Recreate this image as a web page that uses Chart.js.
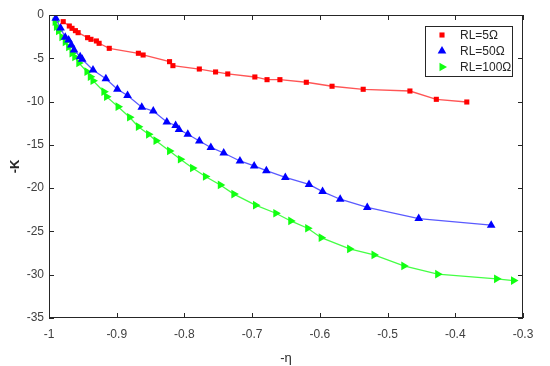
<!DOCTYPE html>
<html>
<head>
<meta charset="utf-8">
<script src="https://cdn.jsdelivr.net/npm/chart.js@4/dist/chart.umd.min.js"></script>
<style>
  html, body { margin: 0; padding: 0; background: #fff; }
  #wrap { width: 550px; height: 366px; }
</style>
</head>
<body>
<div id="wrap"><canvas id="grafico" width="550" height="366"></canvas></div>
<script>
// valores
const etaR5 = [-0.979, -0.970, -0.966, -0.961, -0.957, -0.943, -0.938, -0.930, -0.926, -0.911,
  -0.868, -0.861, -0.822, -0.817, -0.778, -0.754, -0.736, -0.696, -0.678, -0.659,
  -0.620, -0.582, -0.536, -0.467, -0.428, -0.383];
const kR5 = [-0.77, -1.27, -1.54, -1.81, -2.04, -2.62, -2.81, -3.0, -3.27, -3.85,
  -4.42, -4.62, -5.39, -5.85, -6.24, -6.58, -6.81, -7.16, -7.47, -7.47,
  -7.77, -8.23, -8.58, -8.78, -9.74, -10.05];

const etaR50 = [-0.990, -0.983, -0.976, -0.971, -0.967, -0.963, -0.954, -0.951, -0.935, -0.916,
  -0.899, -0.884, -0.863, -0.846, -0.826, -0.813, -0.808, -0.795, -0.778, -0.761,
  -0.742, -0.718, -0.697, -0.679, -0.651, -0.616, -0.596, -0.570, -0.530, -0.454, -0.347];
const kR50 = [-0.38, -1.5, -2.58, -2.89, -3.46, -4.04, -4.82, -5.12, -6.35, -7.36,
  -8.58, -9.3, -10.66, -11.09, -12.36, -12.76, -13.22, -13.78, -14.55, -15.3,
  -15.94, -16.86, -17.44, -17.98, -18.76, -19.57, -20.4, -21.28, -22.23, -23.52, -24.28];

const etaR100 = [-0.991, -0.989, -0.986, -0.981, -0.976, -0.971, -0.966, -0.962, -0.956, -0.944,
  -0.939, -0.935, -0.919, -0.915, -0.898, -0.881, -0.868, -0.853, -0.842, -0.822,
  -0.806, -0.788, -0.769, -0.747, -0.727, -0.695, -0.665, -0.643, -0.618, -0.598,
  -0.556, -0.520, -0.476, -0.426, -0.339, -0.314];
const kR100 = [-0.77, -1.35, -1.85, -2.54, -3.12, -3.70, -4.42, -4.85, -5.54, -6.55,
  -7.12, -7.59, -8.86, -9.43, -10.59, -11.81, -12.90, -13.78, -14.52, -15.70,
  -16.66, -17.67, -18.65, -19.63, -20.69, -21.97, -22.9, -23.79, -24.63, -25.72,
  -27.02, -27.71, -28.98, -29.94, -30.48, -30.68];

const etiquetas = ["RL=5\u03A9", "RL=50\u03A9", "RL=100\u03A9"];
const xTicks = [-1, -0.9, -0.8, -0.7, -0.6, -0.5, -0.4, -0.3];
const yTicks = [0, -5, -10, -15, -20, -25, -30, -35];

function puntos(xs, ys) {
  return xs.map((x, i) => ({ x: x, y: ys[i] }));
}

const fuente = "'Liberation Sans', Arial, sans-serif";

// caja tipo matlab con marcas hacia dentro + leyenda
const cajaPlugin = {
  id: "caja",
  afterDatasetsDraw(chart) {
    const ctx = chart.ctx;
    const a = chart.chartArea;
    const sx = chart.scales.x;
    const sy = chart.scales.y;
    ctx.save();
    ctx.strokeStyle = "#262626";
    ctx.lineWidth = 1;
    ctx.strokeRect(a.left + 0.5, a.top + 0.5, a.right - a.left - 1, a.bottom - a.top - 1);
    ctx.beginPath();
    xTicks.forEach((v) => {
      const px = Math.round(sx.getPixelForValue(v)) + 0.5;
      ctx.moveTo(px, a.bottom); ctx.lineTo(px, a.bottom - 5);
      ctx.moveTo(px, a.top); ctx.lineTo(px, a.top + 5);
    });
    yTicks.forEach((v) => {
      const py = Math.round(sy.getPixelForValue(v)) + 0.5;
      ctx.moveTo(a.left, py); ctx.lineTo(a.left + 5, py);
      ctx.moveTo(a.right, py); ctx.lineTo(a.right - 5, py);
    });
    ctx.stroke();

    // leyenda
    const lx = 425, ly = 26, lw = 87, lh = 50;
    ctx.fillStyle = "#fff";
    ctx.fillRect(lx, ly, lw, lh);
    ctx.strokeStyle = "#262626";
    ctx.strokeRect(lx + 0.5, ly + 0.5, lw, lh);
    ctx.font = "12px " + fuente;
    ctx.textBaseline = "middle";
    chart.data.datasets.forEach((ds, i) => {
      const yy = ly + 9 + i * 16;
      ctx.fillStyle = ds.pointBackgroundColor;
      Chart.helpers.drawPoint(ctx, {
        pointStyle: ds.pointStyle,
        rotation: ds.pointRotation || 0,
        radius: ds.pointRadius,
        borderWidth: 0
      }, lx + 17, yy);
      ctx.fillStyle = "#262626";
      ctx.textAlign = "left";
      ctx.fillText(ds.label, lx + 35, yy + 1);
    });
    ctx.restore();
  }
};

new Chart(document.getElementById("grafico"), {
  type: "scatter",
  data: {
    datasets: [
      {
        label: etiquetas[0],
        data: puntos(etaR5, kR5),
        showLine: true,
        borderColor: "#ff5555",
        borderWidth: 1.3,
        pointStyle: "rect",
        pointRadius: 3.6,
        pointBackgroundColor: "#ff0000",
        pointBorderColor: "#ff0000",
        pointBorderWidth: 0
      },
      {
        label: etiquetas[1],
        data: puntos(etaR50, kR50),
        showLine: true,
        borderColor: "#5a5aff",
        borderWidth: 1.3,
        pointStyle: "triangle",
        pointRadius: 5,
        pointBackgroundColor: "#0000ff",
        pointBorderColor: "#0000ff",
        pointBorderWidth: 0
      },
      {
        label: etiquetas[2],
        data: puntos(etaR100, kR100),
        showLine: true,
        borderColor: "#44ff44",
        borderWidth: 1.3,
        pointStyle: "triangle",
        pointRotation: 90,
        pointRadius: 5,
        pointBackgroundColor: "#11ff11",
        pointBorderColor: "#11ff11",
        pointBorderWidth: 0
      }
    ]
  },
  options: {
    responsive: false,
    animation: false,
    layout: { padding: { top: 15, right: 27, left: 8, bottom: 0 } },
    plugins: {
      legend: { display: false },
      tooltip: { enabled: false }
    },
    scales: {
      x: {
        type: "linear",
        min: -1,
        max: -0.3,
        afterBuildTicks: (s) => { s.ticks = xTicks.map((v) => ({ value: v })); },
        afterFit: (s) => { s.height = 48; },
        grid: { display: false, drawTicks: false },
        border: { display: false },
        ticks: {
          color: "#404040",
          font: { family: fuente, size: 12 },
          padding: 9,
          maxRotation: 0,
          autoSkip: false,
          callback: (v) => String(Math.round(v * 10) / 10)
        },
        title: {
          display: true,
          text: "-\u03B7",
          color: "#262626",
          font: { family: fuente, size: 13 },
          padding: { top: 2, bottom: 0 }
        }
      },
      y: {
        type: "linear",
        min: -35,
        max: 0,
        afterBuildTicks: (s) => { s.ticks = yTicks.map((v) => ({ value: v })); },
        afterFit: (s) => { s.width = 41; },
        grid: { display: false, drawTicks: false },
        border: { display: false },
        ticks: {
          color: "#404040",
          font: { family: fuente, size: 12 },
          padding: 5,
          autoSkip: false,
          callback: (v) => String(v)
        },
        title: {
          display: true,
          text: "-K",
          color: "#262626",
          font: { family: fuente, size: 13, weight: "bold" },
          padding: { top: 0, bottom: 2 }
        }
      }
    }
  },
  plugins: [cajaPlugin]
});
</script>
</body>
</html>
